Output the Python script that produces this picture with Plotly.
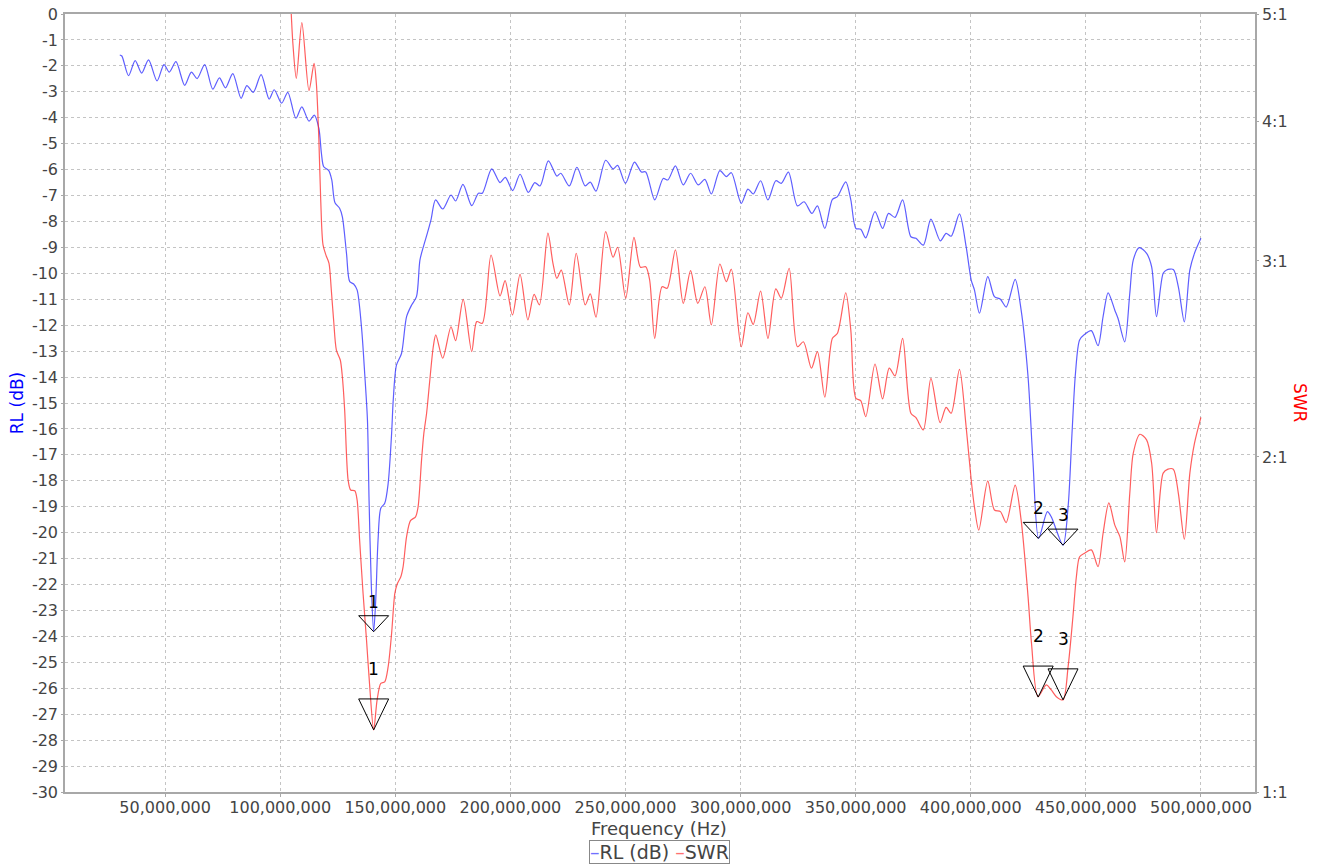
import math
import plotly.graph_objects as go

# ---------------- data ----------------
# Return loss trace: frequency in MHz, RL in dB
rl_freq_mhz = [
    30.3, 31.2, 34.1, 37.0, 39.8, 42.8, 46.5, 49.5, 51.8, 54.7, 58.5, 61.4, 63.9, 67.2,
    70.7, 73.6, 76.2, 79.4, 83.0, 85.5, 88.3, 91.7, 95.2, 97.4, 100.6, 103.3, 106.8,
    109.4, 112.5, 114.8, 116.8, 117.9, 118.9, 121.1, 122.4, 123.8, 125.8, 127.0, 128.8,
    130.2, 131.9, 133.4, 135.3, 136.7, 137.9, 138.6, 139.6, 140.6, 141.5, 142.5, 143.7,
    145.4, 146.9, 148.4, 149.1, 150.5, 152.7, 154.9, 157.1, 159.2, 160.7, 162.4, 163.9,
    165.5, 167.5, 170.6, 174.2, 176.2, 179.4, 183.2, 186.1, 187.8, 191.9, 195.5, 197.8,
    201.0, 204.2, 207.8, 210.6, 212.9, 216.5, 220.2, 221.9, 225.6, 228.9, 232.5, 234.7,
    237.2, 241.4, 244.6, 246.6, 250.0, 253.9, 256.9, 258.8, 262.7, 266.4, 268.4, 271.7,
    275.1, 278.3, 281.6, 284.5, 287.3, 291.0, 293.8, 296.0, 300.3, 303.2, 305.5, 308.7,
    311.9, 315.3, 317.7, 320.8, 324.7, 327.6, 331.0, 333.4, 336.6, 339.9, 342.1, 345.7,
    347.9, 350.1, 352.2, 354.4, 358.4, 361.7, 364.3, 367.1, 370.4, 374.0, 376.2, 379.4,
    382.7, 386.8, 389.3, 391.5, 395.1, 398.0, 400.2, 401.6, 403.8, 407.4, 410.3, 412.9,
    415.4, 419.3, 421.9, 424.9, 427.0, 429.5, 433.3, 435.0, 440.1, 442.3, 444.0, 445.5,
    447.3, 449.5, 452.4, 455.3, 457.5, 459.7, 462.6, 464.0, 466.9, 469.1, 470.6, 473.2,
    476.4, 478.6, 480.7, 483.6, 485.1, 488.0, 490.2, 492.8, 495.2, 497.2, 500.0,
]
rl_db = [
    -1.58, -1.62, -2.38, -1.80, -2.28, -1.77, -2.58, -1.95, -2.24, -1.84, -2.75, -2.24, -2.49, -1.95,
    -2.90, -2.46, -2.85, -2.30, -3.25, -2.76, -3.02, -2.34, -3.28, -2.92, -3.44, -3.02, -4.02,
    -3.58, -4.13, -3.90, -4.41, -5.37, -5.89, -6.04, -6.40, -7.28, -7.49, -7.82, -9.23,
    -10.32, -10.41, -10.64, -12.06, -13.86, -15.66, -18.74, -22.09, -23.82, -22.60, -20.29, -19.06,
    -18.87, -18.10, -16.17, -14.89, -13.54, -13.09, -11.67, -11.22, -10.90, -9.49, -8.91, -8.46,
    -7.94, -7.17, -7.52, -6.98, -7.21, -6.57, -7.39, -6.91, -6.91, -5.97, -6.50, -6.30,
    -6.81, -6.18, -6.88, -6.50, -6.63, -5.66, -6.25, -6.14, -6.63, -5.91, -6.63, -6.48,
    -6.83, -5.64, -5.97, -5.84, -6.53, -5.71, -6.09, -6.09, -7.17, -6.34, -6.40, -5.86,
    -6.59, -6.14, -6.59, -6.38, -6.94, -6.04, -6.27, -6.12, -7.30, -6.75, -6.94, -6.43,
    -7.17, -6.43, -6.53, -6.10, -7.40, -7.24, -7.69, -7.40, -8.27, -7.15, -7.04, -6.47,
    -7.17, -8.27, -8.30, -8.63, -7.62, -8.27, -7.69, -7.84, -7.17, -8.59, -8.65, -8.91,
    -7.91, -8.75, -8.46, -8.57, -7.71, -8.97, -10.26, -10.64, -11.54, -10.13, -10.90, -11.00,
    -11.30, -10.23, -11.42, -13.99, -17.20, -20.22, -19.19, -19.39, -20.48, -19.00, -16.17, -13.86,
    -12.57, -12.35, -12.21, -12.79, -11.67, -10.75, -11.42, -11.74, -12.64, -10.77, -9.49, -9.01,
    -9.23, -9.75, -11.67, -10.00, -9.87, -9.85, -10.52, -11.87, -9.87, -9.23, -8.65,
]

# SWR trace: frequency in MHz, SWR (x:1)
swr_freq_mhz = [
    95.2, 100.6, 103.3, 104.8, 105.5, 107.0, 109.4, 112.5, 114.7, 115.7, 116.8, 117.6,
    118.6, 120.0, 121.2, 122.2, 123.2, 124.4, 126.1, 127.0, 128.0, 129.5, 130.6, 132.4,
    133.4, 134.5, 136.0, 137.5, 138.9, 140.6, 142.1, 143.7, 145.4, 146.9, 148.4, 149.8,
    150.8, 152.4, 153.4, 154.9, 156.6, 158.8, 159.9, 161.4, 162.4, 163.6, 165.0, 166.5,
    167.6, 170.6, 174.2, 176.2, 179.5, 183.2, 185.4, 187.8, 191.6, 195.5, 197.7, 200.9,
    204.2, 207.6, 210.3, 212.6, 216.3, 218.5, 220.2, 222.1, 225.6, 228.6, 232.5, 234.7,
    237.2, 241.4, 244.6, 246.6, 250.1, 253.7, 256.5, 258.8, 260.5, 262.7, 265.9, 268.1,
    271.7, 275.1, 278.3, 281.4, 284.5, 287.3, 291.0, 293.8, 296.0, 300.3, 303.2, 305.5,
    308.7, 311.9, 315.3, 317.7, 321.1, 324.7, 327.3, 330.8, 333.4, 336.6, 339.9, 342.1,
    345.7, 347.9, 350.1, 352.2, 354.4, 358.4, 361.7, 364.6, 367.1, 370.4, 374.0, 376.2,
    379.4, 382.7, 386.7, 389.3, 391.5, 395.1, 398.0, 400.2, 401.6, 403.5, 407.4, 410.3,
    412.9, 415.4, 419.3, 421.9, 424.9, 426.4, 429.2, 432.8, 435.0, 437.2, 440.1, 442.3,
    444.4, 445.9, 447.3, 449.5, 452.4, 455.3, 457.5, 460.0, 462.6, 464.8, 466.9, 469.1,
    470.6, 473.5, 476.4, 478.6, 480.7, 483.6, 485.7, 488.0, 490.2, 492.8, 495.2, 497.2,
    500.0,
]
swr = [
    5.36, 5.12, 5.81, 5.00, 4.706, 4.377, 4.911, 4.267, 4.515, 4.332, 3.853, 3.403,
    3.101, 3.031, 2.985, 2.825, 2.655, 2.495, 2.444, 2.361, 2.204, 1.907, 1.868, 1.865,
    1.830, 1.684, 1.508, 1.369, 1.243, 1.137, 1.210, 1.252, 1.256, 1.296, 1.389, 1.508,
    1.537, 1.561, 1.594, 1.696, 1.753, 1.767, 1.804, 1.987, 2.100, 2.189, 2.345, 2.512,
    2.574, 2.453, 2.618, 2.544, 2.771, 2.487, 2.646, 2.637, 3.037, 2.790, 2.880, 2.683,
    2.918, 2.655, 2.800, 2.739, 3.177, 2.985, 2.894, 2.944, 2.739, 3.048, 2.739, 2.802,
    2.670, 3.187, 3.023, 3.086, 2.777, 3.150, 2.961, 2.964, 2.884, 2.556, 2.844, 2.835,
    3.069, 2.748, 2.940, 2.748, 2.844, 2.628, 2.981, 2.874, 2.949, 2.512, 2.695, 2.631,
    2.819, 2.556, 2.831, 2.777, 2.955, 2.512, 2.538, 2.403, 2.487, 2.263, 2.556, 2.583,
    2.809, 2.600, 2.258, 2.247, 2.174, 2.424, 2.255, 2.403, 2.365, 2.556, 2.189, 2.169,
    2.115, 2.353, 2.147, 2.216, 2.189, 2.397, 2.129, 1.907, 1.804, 1.719, 1.903, 1.792,
    1.786, 1.746, 1.887, 1.755, 1.498, 1.360, 1.218, 1.248, 1.235, 1.218, 1.210, 1.296,
    1.437, 1.561, 1.627, 1.639, 1.650, 1.594, 1.708, 1.819, 1.737, 1.696, 1.610, 1.855,
    2.015, 2.096, 2.072, 1.974, 1.710, 1.934, 1.950, 1.950, 1.855, 1.687, 1.934, 2.057,
    2.171,
]

# Markers
marker_labels = ["1", "2", "3"]
marker_freq_mhz = [140.6, 429.3, 440.1]
marker_rl_db = [-23.82, -20.22, -20.48]
marker_swr = [1.137, 1.217, 1.210]

# Axis ticks
freq_ticks_hz = [50_000_000 * i for i in range(1, 11)]
freq_tick_labels = [f"{v:,}" for v in freq_ticks_hz]
rl_ticks = list(range(-30, 1))
rl_tick_labels = [str(v) for v in rl_ticks]
swr_ticks = [1, 2, 3, 4, 5]
swr_tick_labels = ["1:1", "2:1", "3:1", "4:1", "5:1"]

# ---------------- figure ----------------
FONT = "DejaVu Sans"
BLUE = "rgba(40,40,255,0.75)"
RED = "rgba(255,40,40,0.75)"
GRID = "#c4c4c4"
AXIS = "#a8a8a8"
TEXT = "#444444"

fig = go.Figure()
fig.add_trace(go.Scatter(
    x=[f * 1e6 for f in rl_freq_mhz], y=rl_db, name="RL (dB)", mode="lines",
    line=dict(color=BLUE, width=1.2, shape="spline", smoothing=0.8),
    yaxis="y", showlegend=False,
))
fig.add_trace(go.Scatter(
    x=[f * 1e6 for f in swr_freq_mhz], y=swr, name="SWR", mode="lines",
    line=dict(color=RED, width=1.2, shape="spline", smoothing=0.8),
    yaxis="y2", showlegend=False,
))

shapes = []
annotations = []
for lab, f, rl, s in zip(marker_labels, marker_freq_mhz, marker_rl_db, marker_swr):
    # RL marker: downward triangle with apex on the point
    shapes.append(dict(
        type="path", xref="x", yref="y", xsizemode="pixel", ysizemode="pixel",
        xanchor=f * 1e6, yanchor=rl, path="M -15 16 L 15 16 L 0 0 Z",
        line=dict(color="black", width=1), fillcolor="rgba(0,0,0,0)",
    ))
    annotations.append(dict(
        x=f * 1e6, y=rl, xref="x", yref="y", text=lab, showarrow=False,
        yshift=30, font=dict(family=FONT, size=17, color="black"),
    ))
    # SWR marker on the log axis
    shapes.append(dict(
        type="path", xref="x", yref="y2", xsizemode="pixel", ysizemode="pixel",
        xanchor=f * 1e6, yanchor=s, path="M -15 31 L 15 31 L 0 0 Z",
        line=dict(color="black", width=1), fillcolor="rgba(0,0,0,0)",
    ))
    annotations.append(dict(
        x=f * 1e6, y=math.log10(s), xref="x", yref="y2", text=lab, showarrow=False,
        yshift=61, font=dict(family=FONT, size=17, color="black"),
    ))

# x-axis title
annotations.append(dict(
    x=(659 - 65) / 1190, y=(792 - 828) / 778, xref="paper", yref="paper",
    xanchor="center", yanchor="middle", text="Frequency (Hz)", showarrow=False,
    font=dict(family=FONT, size=18, color=TEXT),
))
# right axis title (rotated top-to-bottom)
annotations.append(dict(
    x=(1300 - 65) / 1190, y=(792 - 403) / 778, xref="paper", yref="paper",
    xanchor="center", yanchor="middle",
    text="SWR", showarrow=False, textangle=90,
    font=dict(family=FONT, size=17, color="red"),
))
# legend box
annotations.append(dict(
    x=(659 - 65) / 1190, y=(792 - 852) / 778, xref="paper", yref="paper",
    xanchor="center", yanchor="middle",
    text=('<span style="color:#7070ff">–</span>RL (dB) '
          '<span style="color:#ff7070">–</span>SWR'),
    showarrow=False, bordercolor="#888888", borderwidth=1, borderpad=0,
    font=dict(family=FONT, size=19, color=TEXT),
))

fig.update_layout(
    width=1321, height=864,
    margin=dict(l=65, r=66, t=14, b=72, autoexpand=False),
    paper_bgcolor="white", plot_bgcolor="white",
    font=dict(family=FONT, size=15, color=TEXT),
    shapes=shapes, annotations=annotations,
    showlegend=False,
    xaxis=dict(
        range=[6.5e6, 523.5e6], tickvals=freq_ticks_hz, ticktext=freq_tick_labels,
        showgrid=True, gridcolor=GRID, griddash="dot", gridwidth=1,
        showline=True, linecolor=AXIS, linewidth=1.5, mirror=True,
        ticks="outside", ticklen=3, tickcolor=AXIS, automargin=False,
        ticklabelstandoff=-3,
        tickfont=dict(family=FONT, size=16, color=TEXT),
        zeroline=False,
    ),
    yaxis=dict(
        range=[-30, 0], tickvals=rl_ticks, ticktext=rl_tick_labels,
        showgrid=True, gridcolor=GRID, griddash="dot", gridwidth=1,
        showline=True, linecolor=AXIS, linewidth=1.5, automargin=False,
        ticks="outside", ticklen=2, tickcolor=AXIS,
        tickfont=dict(family=FONT, size=16, color=TEXT),
        title=dict(text="RL (dB)", font=dict(family=FONT, size=17, color="blue"), standoff=4),
        zeroline=False,
    ),
    yaxis2=dict(
        type="log", range=[0, math.log10(5)], overlaying="y", side="right",
        tickvals=swr_ticks, ticktext=swr_tick_labels, showgrid=False,
        showline=True, linecolor=AXIS, linewidth=1.5, automargin=False,
        ticks="outside", ticklen=2, tickcolor=AXIS,
        tickfont=dict(family=FONT, size=16, color=TEXT),
        zeroline=False,
    ),
)

fig.write_html(
    "out.html",
    config={"displayModeBar": False},
    post_script="document.body.style.margin='0px';document.body.style.overflow='hidden';",
)
